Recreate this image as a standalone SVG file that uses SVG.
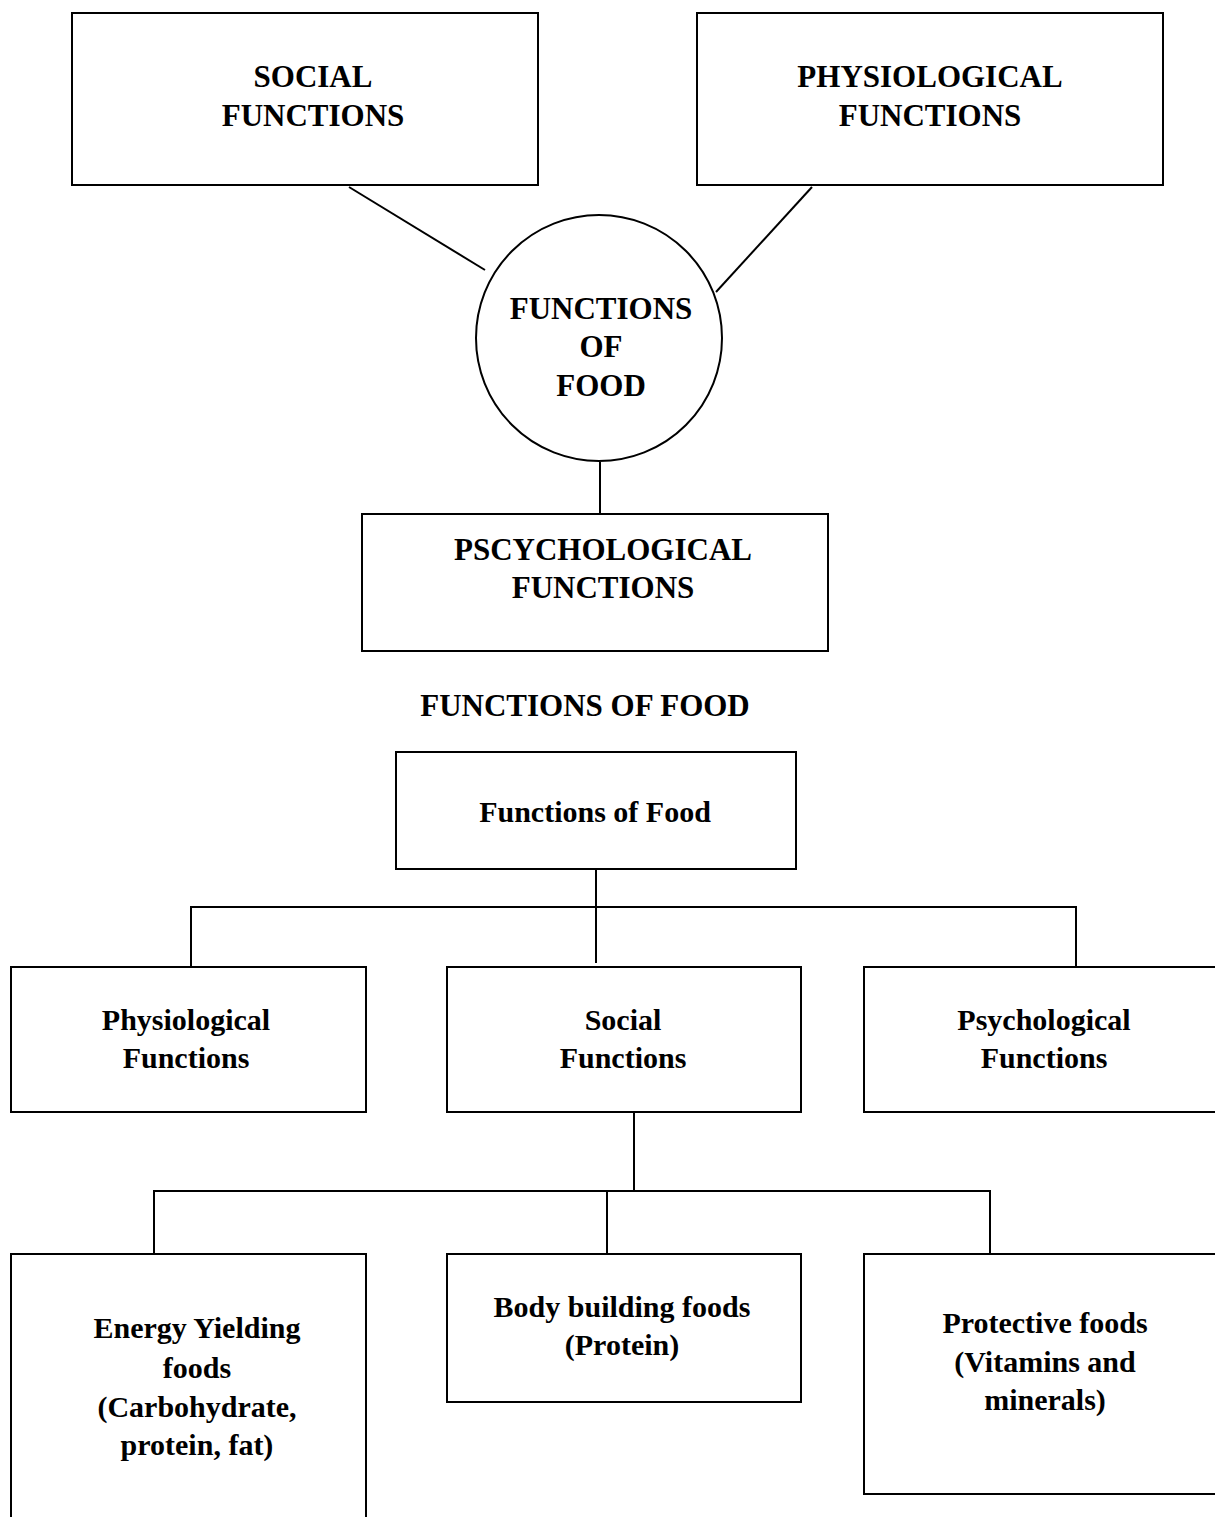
<svg xmlns="http://www.w3.org/2000/svg" width="1215" height="1517" viewBox="0 0 1215 1517">
<style>
.box{fill:#fff;stroke:#000;stroke-width:2}
.ln{fill:none;stroke:#000;stroke-width:2}
text{font-family:"Liberation Serif","Times New Roman",serif;font-weight:bold;fill:#000;text-anchor:middle}
.u{font-size:31px}
.l{font-size:30px}
</style>
<rect width="1215" height="1517" fill="#fff"/>
<g id="connectors">
<line class="ln" x1="349" y1="187" x2="485" y2="270"/>
<line class="ln" x1="812" y1="187" x2="716" y2="292"/>
<line class="ln" x1="600" y1="462" x2="600" y2="514"/>
<line class="ln" x1="596" y1="869" x2="596" y2="963"/>
<polyline class="ln" points="191,967 191,907 1076,907 1076,966"/>
<line class="ln" x1="634" y1="1112" x2="634" y2="1191"/>
<polyline class="ln" points="154,1254 154,1191 990,1191 990,1254"/>
<line class="ln" x1="607" y1="1191" x2="607" y2="1254"/>
</g>
<g id="social-top">
<rect class="box" x="72" y="13" width="466" height="172"/>
<text class="u" x="313" y="87">SOCIAL</text>
<text class="u" x="313" y="126">FUNCTIONS</text>
</g>
<g id="physiological-top">
<rect class="box" x="697" y="13" width="466" height="172"/>
<text class="u" x="930" y="87">PHYSIOLOGICAL</text>
<text class="u" x="930" y="126">FUNCTIONS</text>
</g>
<g id="center">
<circle class="box" cx="599" cy="338" r="123"/>
<text class="u" x="601" y="319">FUNCTIONS</text>
<text class="u" x="601" y="357">OF</text>
<text class="u" x="601" y="396">FOOD</text>
</g>
<g id="psychological-top">
<rect class="box" x="362" y="514" width="466" height="137"/>
<text class="u" x="603" y="560">PSCYCHOLOGICAL</text>
<text class="u" x="603" y="598">FUNCTIONS</text>
</g>
<g id="title">
<text class="u" x="585" y="716">FUNCTIONS OF FOOD</text>
</g>
<g id="root">
<rect class="box" x="396" y="752" width="400" height="117"/>
<text class="l" x="595" y="822">Functions of Food</text>
</g>
<g id="physiological">
<rect class="box" x="11" y="967" width="355" height="145"/>
<text class="l" x="186" y="1030">Physiological</text>
<text class="l" x="186" y="1068">Functions</text>
</g>
<g id="social">
<rect class="box" x="447" y="967" width="354" height="145"/>
<text class="l" x="623" y="1030">Social</text>
<text class="l" x="623" y="1068">Functions</text>
</g>
<g id="psychological">
<rect class="box" x="864" y="967" width="360" height="145"/>
<text class="l" x="1044" y="1030">Psychological</text>
<text class="l" x="1044" y="1068">Functions</text>
</g>
<g id="energy">
<rect class="box" x="11" y="1254" width="355" height="290"/>
<text class="l" x="197" y="1338">Energy Yielding</text>
<text class="l" x="197" y="1378">foods</text>
<text class="l" x="197" y="1417">(Carbohydrate,</text>
<text class="l" x="197" y="1455">protein, fat)</text>
</g>
<g id="body">
<rect class="box" x="447" y="1254" width="354" height="148"/>
<text class="l" x="622" y="1317">Body building foods</text>
<text class="l" x="622" y="1355">(Protein)</text>
</g>
<g id="protective">
<rect class="box" x="864" y="1254" width="360" height="240"/>
<text class="l" x="1045" y="1333">Protective foods</text>
<text class="l" x="1045" y="1372">(Vitamins and</text>
<text class="l" x="1045" y="1410">minerals)</text>
</g>
</svg>
